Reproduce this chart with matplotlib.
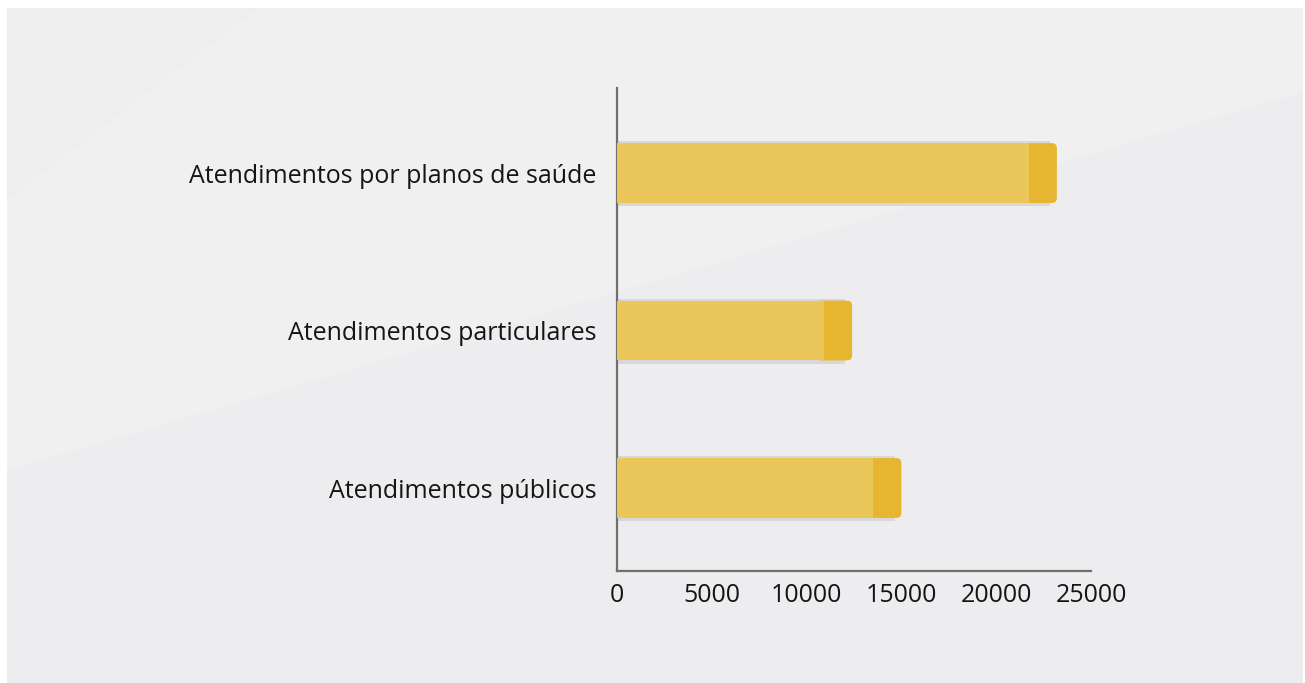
import matplotlib
matplotlib.use("Agg")
import matplotlib.pyplot as plt
from matplotlib.patches import FancyBboxPatch, Polygon

# Data
categories = ["Atendimentos por planos de saúde", "Atendimentos particulares", "Atendimentos públicos"]
values = [23200, 12400, 15000]
xticks = [0, 5000, 10000, 15000, 20000, 25000]

plt.rcParams['font.family'] = ['Open Sans', 'DejaVu Sans']

W, H = 1305, 683
fig = plt.figure(figsize=(W / 100, H / 100), dpi=100)
fig.patch.set_facecolor("white")

# Background panel with soft diagonal light bands
bg = fig.add_axes([0, 0, 1, 1], zorder=0)
bg.set_xlim(0, W)
bg.set_ylim(H, 0)
bg.axis("off")
bg.add_patch(Polygon([(7, 8), (1303, 8), (1303, 683), (7, 683)], closed=True,
                     facecolor="#ededef", edgecolor="none"))
bg.add_patch(Polygon([(7, 470), (7, 8), (1303, 8), (1303, 92)], closed=True,
                     facecolor="#f0f0f1", edgecolor="none"))
bg.add_patch(Polygon([(7, 8), (258, 8), (7, 200)], closed=True,
                     facecolor="#eeeeef", edgecolor="none"))

ax = fig.add_axes([617 / W, (H - 571) / H, (1091 - 617) / W, (571 - 88) / H], zorder=1)
ax.patch.set_alpha(0)

ypos = list(range(len(categories)))
bar_h = 0.38
cap_w = 1480
light = "#ebc65b"
dark = "#e6b631"

# soft shadow behind each bar
ax.barh([y + 0.004 for y in ypos], [v - 350 for v in values], height=bar_h + 0.032, left=0,
        color="#d8d8da", edgecolor="none", zorder=1)

# darker rounded end caps
rx = 270
ry = 0.033
for y, v in zip(ypos, values):
    cap = FancyBboxPatch((v - cap_w - 400, y - bar_h / 2), cap_w + 400, bar_h,
                         boxstyle=f"round,pad=0,rounding_size={rx}",
                         mutation_aspect=ry / rx,
                         facecolor=dark, edgecolor="none", zorder=2)
    ax.add_patch(cap)

# main bar bodies
ax.barh(ypos, [v - cap_w for v in values], height=bar_h, left=0,
        color=light, edgecolor="none", zorder=3)

ax.set_xlim(0, 25000)
ax.set_ylim(2.527, -0.54)
ax.set_yticks(ypos)
ax.set_yticklabels(categories, fontsize=18, color="#151515")
ax.set_xticks(xticks)
ax.set_xticklabels([str(t) for t in xticks], fontsize=18, color="#151515")
ax.tick_params(axis="y", length=0, pad=15)
ax.tick_params(axis="x", length=0, pad=9)

for s in ["top", "right"]:
    ax.spines[s].set_visible(False)
for s in ["left", "bottom"]:
    ax.spines[s].set_color("#6f6f6f")
    ax.spines[s].set_linewidth(1.6)

fig.savefig("out.png", dpi=100)
